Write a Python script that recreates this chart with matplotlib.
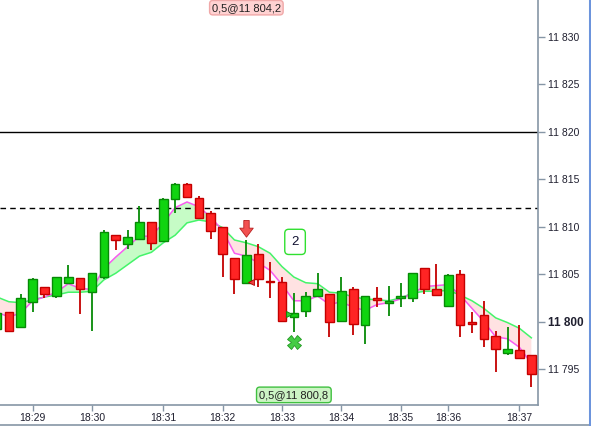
import matplotlib
matplotlib.use("Agg")
import matplotlib.pyplot as plt
import matplotlib.ticker as ticker
from matplotlib.lines import Line2D
import numpy as np

plt.rcParams['font.family'] = ['Liberation Sans', 'DejaVu Sans']

# candle data, one entry per bar (tick chart, bars evenly spaced)
opens = [11799.2, 11801.0, 11799.4, 11802.1, 11803.7, 11802.7, 11804.1, 11804.6, 11803.1, 11804.7,
         11809.1, 11808.2, 11808.7, 11810.5, 11808.5, 11812.9, 11814.5, 11813.0, 11811.4, 11810.0,
         11806.7, 11804.1, 11807.1, 11804.2, 11804.2, 11800.5, 11801.1, 11802.7, 11802.9, 11800.1,
         11803.4, 11799.7, 11802.5, 11802.0, 11802.5, 11802.5, 11805.6, 11803.4, 11801.6, 11805.0,
         11800.0, 11800.7, 11798.5, 11796.7, 11797.0, 11796.5]
closes = [11800.9, 11799.0, 11802.5, 11804.5, 11802.9, 11804.7, 11804.7, 11803.4, 11805.1, 11809.4,
          11808.6, 11808.9, 11810.5, 11808.3, 11812.9, 11814.5, 11813.1, 11810.9, 11809.5, 11807.1,
          11804.5, 11807.0, 11804.5, 11804.2, 11800.1, 11800.9, 11802.7, 11803.4, 11800.0, 11803.2,
          11799.8, 11802.7, 11802.3, 11802.2, 11802.7, 11805.1, 11803.4, 11802.8, 11804.9, 11799.6,
          11799.8, 11798.2, 11797.1, 11797.1, 11796.2, 11794.5]
highs = [11801.0, 11801.0, 11802.9, 11804.6, 11803.7, 11804.7, 11806.0, 11804.6, 11805.1, 11809.7,
         11809.1, 11809.7, 11812.2, 11810.5, 11813.0, 11814.6, 11814.6, 11813.2, 11811.6, 11810.0,
         11806.7, 11808.6, 11808.2, 11806.3, 11804.7, 11803.0, 11803.1, 11805.1, 11802.9, 11804.7,
         11803.7, 11802.7, 11803.7, 11803.8, 11804.1, 11805.1, 11805.6, 11806.1, 11805.0, 11805.4,
         11801.0, 11802.2, 11799.0, 11799.4, 11799.6, 11796.5]
lows = [11799.0, 11798.9, 11799.4, 11801.0, 11802.5, 11802.5, 11804.1, 11800.8, 11799.0, 11804.5,
        11807.5, 11807.7, 11808.7, 11807.5, 11808.5, 11811.4, 11813.1, 11810.9, 11808.7, 11804.7,
        11802.9, 11804.0, 11803.7, 11802.5, 11800.0, 11798.9, 11800.5, 11802.7, 11798.4, 11800.0,
        11798.6, 11797.6, 11801.5, 11800.6, 11801.5, 11802.1, 11802.9, 11802.8, 11801.6, 11798.4,
        11798.8, 11797.3, 11794.7, 11796.5, 11796.2, 11793.1]

# fast (magenta) and slow (green) averages
fast_ma = [11801.0, 11800.5, 11800.9, 11802.2, 11802.6, 11803.1, 11804.0, 11803.5, 11803.4, 11805.6,
           11806.8, 11807.9, 11809.0, 11809.0, 11810.4, 11812.0, 11812.6, 11812.1, 11811.0, 11809.6,
           11807.2, 11806.9, 11806.2, 11805.4, 11803.9, 11802.2, 11802.2, 11802.7, 11801.8, 11802.1,
           11801.5, 11801.2, 11801.8, 11802.0, 11802.4, 11803.0, 11803.7, 11803.8, 11803.9, 11802.8,
           11801.4, 11800.0, 11798.4, 11798.2, 11797.3, 11795.6]
slow_ma = [11802.6, 11802.1, 11802.0, 11802.3, 11802.6, 11802.8, 11803.1, 11803.1, 11803.2, 11804.4,
           11805.1, 11806.0, 11806.9, 11807.3, 11808.3, 11809.1, 11810.4, 11810.7, 11810.5, 11809.9,
           11808.6, 11808.3, 11807.9, 11807.2, 11805.8, 11804.7, 11804.1, 11804.0, 11803.1, 11803.0,
           11802.6, 11802.4, 11802.3, 11802.2, 11802.5, 11803.0, 11803.2, 11803.2, 11803.3, 11802.8,
           11802.2, 11801.4, 11800.4, 11799.9, 11799.3, 11798.3]

# time labels and the bar they sit under
tick_bars = [3, 8, 14, 19, 24, 29, 34, 38, 44]
tick_labels = ['18:29', '18:30', '18:31', '18:32', '18:33', '18:34', '18:35', '18:36', '18:37']

y_ticks = [11795, 11800, 11805, 11810, 11815, 11820, 11825, 11830]

# trades
sell_bar, sell_price, sell_text = 21, 11804.2, '0,5@11 804,2'
buy_bar, buy_price, buy_text = 25, 11800.8, '0,5@11 800,8'
solid_level = 11820
dashed_level = 11812

fig = plt.figure(figsize=(5.91, 4.26), dpi=100)
fig.set_facecolor('white')
ax = fig.add_axes([0, 21/426, 538/591, 405/426])

x = np.arange(len(opens))
o = np.array(opens); c = np.array(closes)
up = c > o
body_col = np.where(up, '#10d410', '#ff2424')
edge_col = np.where(up, '#068a06', '#c40000')

ax.vlines(x, lows, highs, colors=edge_col, linewidth=1.3, zorder=3)
h = np.maximum(np.abs(c - o), 0.12)
ax.bar(x, h, bottom=np.minimum(o, c), width=0.72, color=body_col,
       edgecolor=edge_col, linewidth=1, zorder=4)

f = np.array(fast_ma); s = np.array(slow_ma)
ax.fill_between(x, f, s, where=f >= s, interpolate=True, color='#c6fcc6', lw=0, zorder=1)
ax.fill_between(x, f, s, where=f < s, interpolate=True, color='#ffe2e2', lw=0, zorder=1)
ax.plot(x, s, color='#44f46a', lw=1.1, zorder=2)
ax.plot(x, f, color='#f85cf0', lw=1.1, zorder=2)

ax.axhline(solid_level, color='black', lw=1, zorder=2)
ax.axhline(dashed_level, color='black', lw=1, ls=(0, (4, 3)), zorder=2)

# trade markers
ax.plot(sell_bar + 0.42, sell_price, marker='<', ms=5, color='#f04040', mec='#b00000', mew=0.6, zorder=5)
ax.plot(buy_bar - 0.42, buy_price, marker='>', ms=5, color='#30d030', mec='#088a08', mew=0.6, zorder=5)

arrow = [(-0.3, 1), (0.3, 1), (0.3, 0.15), (0.75, 0.15), (0, -0.85), (-0.75, 0.15), (-0.3, 0.15), (-0.3, 1)]
ax.plot(sell_bar, 11809.8, marker=arrow, ms=13, color='#f25050', mec='#b82020', mew=0.6, zorder=5)
ax.plot(buy_bar, 11797.9, marker='X', ms=10, color='#44cc44', mec='#229922', mew=0.6, zorder=5)

ax.text(buy_bar + 0.1, 11808.4, '2', fontsize=9.5, color='#101030', ha='center', va='center', zorder=6,
        bbox=dict(boxstyle='round,pad=0.5,rounding_size=0.3', fc='white', ec='#30e030', lw=1))

xt = ax.get_xaxis_transform()
ax.text(sell_bar, 0.981, sell_text, transform=xt, fontsize=8, ha='center', va='center', color='#202020',
        zorder=6, bbox=dict(boxstyle='round,pad=0.2,rounding_size=0.3', fc='#ffd2d2', ec='#f0a8a8', lw=1))
ax.text(buy_bar, 0.025, buy_text, transform=xt, fontsize=8, ha='center', va='center', color='#202020',
        zorder=6, bbox=dict(boxstyle='round,pad=0.25,rounding_size=0.3', fc='#ccf4c4', ec='#40c040', lw=1))

ax.set_xlim(0.253, 45.56)
ax.set_ylim(11791.23, 11833.86)

for sp in ['top', 'left']:
    ax.spines[sp].set_visible(False)
for sp in ['right', 'bottom']:
    ax.spines[sp].set_color('#8696a6')
    ax.spines[sp].set_linewidth(1.2)

ax.yaxis.tick_right()
ax.set_yticks(y_ticks)
ax.yaxis.set_major_formatter(ticker.FuncFormatter(lambda v, p: '{:,.0f}'.format(v).replace(',', ' ')))
ax.set_xticks(tick_bars)
ax.set_xticklabels(tick_labels)
ax.tick_params(axis='y', direction='out', length=5, width=1, color='#8696a6', labelsize=7.5,
               labelcolor='#202030', pad=2)
ax.tick_params(axis='x', direction='out', length=4, width=1, color='#8696a6', labelsize=7.5,
               labelcolor='#202030', pad=2)
for lab in ax.get_yticklabels():
    if lab.get_text() == '11 800':
        lab.set_fontweight('bold')
        lab.set_fontsize(8.5)

# window frame
fig.add_artist(Line2D([0, 1], [1.5/426, 1.5/426], color='#8696a6', lw=1.2))
fig.add_artist(Line2D([589.5/591, 589.5/591], [0, 1], color='#6c94dc', lw=2.2))

fig.savefig('out.png', dpi=100)
